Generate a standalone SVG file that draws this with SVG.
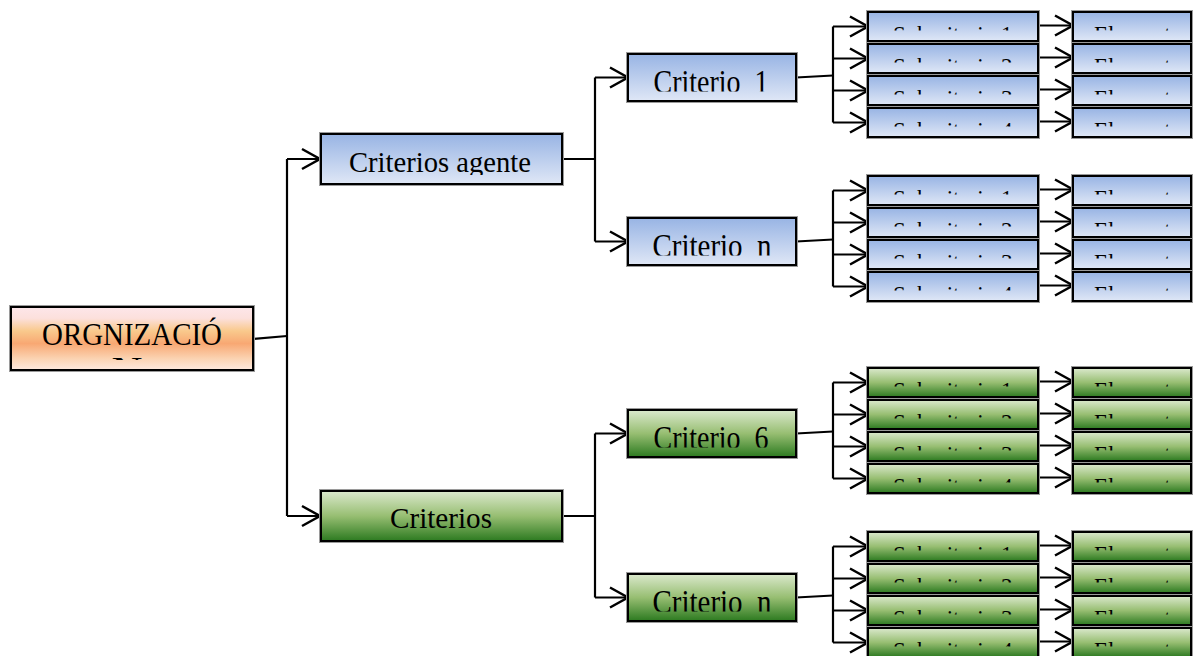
<svg xmlns="http://www.w3.org/2000/svg" width="1197" height="656" viewBox="0 0 1197 656">
  <defs>
    <linearGradient id="gBlue" x1="0" y1="0" x2="0" y2="1">
      <stop offset="0" stop-color="#98b4e4"/>
      <stop offset="1" stop-color="#dfe7f6"/>
    </linearGradient>
    <linearGradient id="gGreen" x1="0" y1="0" x2="0" y2="1">
      <stop offset="0" stop-color="#dbe9cd"/>
      <stop offset="0.5" stop-color="#97be72"/>
      <stop offset="1" stop-color="#2c7a20"/>
    </linearGradient>
    <linearGradient id="gPeach" x1="0" y1="0" x2="0" y2="1">
      <stop offset="0" stop-color="#fde6ea"/>
      <stop offset="0.18" stop-color="#fce0dc"/>
      <stop offset="0.38" stop-color="#f9c98c"/>
      <stop offset="0.58" stop-color="#f8a873"/>
      <stop offset="0.82" stop-color="#fbd3b2"/>
      <stop offset="1" stop-color="#fde9df"/>
    </linearGradient>
    <marker id="ah" markerUnits="userSpaceOnUse" markerWidth="24" markerHeight="24" viewBox="0 0 24 24" refX="21" refY="11" orient="auto" overflow="visible">
      <path d="M3 1 L21 11 L3 21" fill="none" stroke="#000" stroke-width="2.5"/>
    </marker>
    <!-- text areas of the boxes (local coordinates of each node) -->
    <clipPath id="clipSub"><rect x="2" y="0" width="166" height="18.6"/></clipPath>
    <clipPath id="clipEl"><rect x="2" y="0" width="114" height="18.6"/></clipPath>
    <clipPath id="clipCrit"><rect x="2" y="0" width="164" height="37.5"/></clipPath>
    <clipPath id="clipMain"><rect x="2" y="0" width="237" height="41"/></clipPath>
    <clipPath id="clipRoot"><rect x="2" y="0" width="238" height="53"/></clipPath>
  </defs>
  <style>
    .box { stroke: #000; stroke-width: 2; }
    .halo { fill: none; stroke: #9a9a9a; stroke-width: 1; }
    .blue { fill: url(#gBlue); }
    .green { fill: url(#gGreen); }
    .peach { fill: url(#gPeach); }
    text { font-family: "Liberation Serif", "Times New Roman", serif; fill: #000; white-space: pre; }
    .big { font-size: 31px; }
    .mid { font-size: 28.6px; }
    .crit { font-size: 33px; }
    .small { font-size: 23px; }
    .conn path { fill: none; stroke: #000; stroke-width: 2.2; }
    .conn .arr { marker-end: url(#ah); }
  </style>

  <rect width="1197" height="656" fill="#fff"/>

  <!-- connectors -->
  <g id="connectors" class="conn">
    <!-- root to first level -->
    <path d="M253 339 L287 336"/>
    <path d="M287 159 V516"/>
    <path class="arr" d="M287 159 H320"/>
    <path class="arr" d="M287 516 H320"/>
    <!-- first level to criteria -->
    <path d="M562 159 H595"/>
    <path d="M595 77.5 V241.5"/>
    <path class="arr" d="M595 77.5 H628"/>
    <path class="arr" d="M595 241.5 H628"/>
    <path d="M562 516 H595"/>
    <path d="M595 433.5 V597.5"/>
    <path class="arr" d="M595 433.5 H628"/>
    <path class="arr" d="M595 597.5 H628"/>
    <!-- Criterio 1 fan-out -->
    <path d="M796 77.5 L833 75.5"/>
    <path d="M833 26.5 V122.5"/>
    <path class="arr" d="M833 26.5 H868"/>
    <path class="arr" d="M833 58.5 H868"/>
    <path class="arr" d="M833 90.5 H868"/>
    <path class="arr" d="M833 122.5 H868"/>
    <path class="arr" d="M1038 25.5 H1073"/>
    <path class="arr" d="M1038 57.5 H1073"/>
    <path class="arr" d="M1038 89.5 H1073"/>
    <path class="arr" d="M1038 121.5 H1073"/>
    <!-- Criterio n (blue) fan-out -->
    <path d="M796 241.5 L833 239.5"/>
    <path d="M833 190.5 V286.5"/>
    <path class="arr" d="M833 190.5 H868"/>
    <path class="arr" d="M833 222.5 H868"/>
    <path class="arr" d="M833 254.5 H868"/>
    <path class="arr" d="M833 286.5 H868"/>
    <path class="arr" d="M1038 189.5 H1073"/>
    <path class="arr" d="M1038 221.5 H1073"/>
    <path class="arr" d="M1038 253.5 H1073"/>
    <path class="arr" d="M1038 285.5 H1073"/>
    <!-- Criterio 6 fan-out -->
    <path d="M796 433.5 L833 431.5"/>
    <path d="M833 382.5 V478.5"/>
    <path class="arr" d="M833 382.5 H868"/>
    <path class="arr" d="M833 414.5 H868"/>
    <path class="arr" d="M833 446.5 H868"/>
    <path class="arr" d="M833 478.5 H868"/>
    <path class="arr" d="M1038 381.5 H1073"/>
    <path class="arr" d="M1038 413.5 H1073"/>
    <path class="arr" d="M1038 445.5 H1073"/>
    <path class="arr" d="M1038 477.5 H1073"/>
    <!-- Criterio n (green) fan-out -->
    <path d="M796 597.5 L833 595.5"/>
    <path d="M833 546.5 V642.5"/>
    <path class="arr" d="M833 546.5 H868"/>
    <path class="arr" d="M833 578.5 H868"/>
    <path class="arr" d="M833 610.5 H868"/>
    <path class="arr" d="M833 642.5 H868"/>
    <path class="arr" d="M1038 545.5 H1073"/>
    <path class="arr" d="M1038 577.5 H1073"/>
    <path class="arr" d="M1038 609.5 H1073"/>
    <path class="arr" d="M1038 641.5 H1073"/>
  </g>

  <!-- root -->
  <g id="organizacion" transform="translate(11,307)">
    <rect class="halo" x="-1.5" y="-1.5" width="245" height="66"/>
    <rect class="box peach" width="242" height="63"/>
    <g clip-path="url(#clipRoot)">
      <text class="big" x="121" y="38" text-anchor="middle" textLength="180" lengthAdjust="spacingAndGlyphs">ORGNIZACIÓ</text>
      <text class="big" x="116" y="71.8" text-anchor="middle" textLength="31" lengthAdjust="spacingAndGlyphs">N</text>
    </g>
  </g>

  <!-- first level -->
  <g id="criterios-agente" transform="translate(321,134)">
    <rect class="halo" x="-1.5" y="-1.5" width="244" height="53"/>
    <rect class="box blue" width="241" height="50"/>
    <text class="mid" x="119" y="38" text-anchor="middle" textLength="182" lengthAdjust="spacingAndGlyphs" clip-path="url(#clipMain)">Criterios agente</text>
  </g>
  <g id="criterios" transform="translate(321,491)">
    <rect class="halo" x="-1.5" y="-1.5" width="244" height="53"/>
    <rect class="box green" width="241" height="50"/>
    <text class="mid" x="120" y="37.3" text-anchor="middle" textLength="102" lengthAdjust="spacingAndGlyphs" clip-path="url(#clipMain)">Criterios</text>
  </g>

  <!-- criteria -->
  <g id="criterio-1" transform="translate(628,54)">
    <rect class="halo" x="-1.5" y="-1.5" width="171" height="50"/>
    <rect class="box blue" width="168" height="47"/>
    <text class="crit" x="83" y="39" text-anchor="middle" textLength="115" lengthAdjust="spacingAndGlyphs" clip-path="url(#clipCrit)">Criterio  1</text>
  </g>
  <g id="criterio-n-a" transform="translate(628,218)">
    <rect class="halo" x="-1.5" y="-1.5" width="171" height="50"/>
    <rect class="box blue" width="168" height="47"/>
    <text class="crit" x="84" y="39" text-anchor="middle" textLength="119" lengthAdjust="spacingAndGlyphs" clip-path="url(#clipCrit)">Criterio  n</text>
  </g>
  <g id="criterio-6" transform="translate(628,410)">
    <rect class="halo" x="-1.5" y="-1.5" width="171" height="50"/>
    <rect class="box green" width="168" height="47"/>
    <text class="crit" x="83" y="39" text-anchor="middle" textLength="115" lengthAdjust="spacingAndGlyphs" clip-path="url(#clipCrit)">Criterio  6</text>
  </g>
  <g id="criterio-n-b" transform="translate(628,574)">
    <rect class="halo" x="-1.5" y="-1.5" width="171" height="50"/>
    <rect class="box green" width="168" height="47"/>
    <text class="crit" x="84" y="39" text-anchor="middle" textLength="119" lengthAdjust="spacingAndGlyphs" clip-path="url(#clipCrit)">Criterio  n</text>
  </g>

  <!-- sub-criteria and elements, Criterio 1 -->
  <g id="sub-a1" transform="translate(868,12)"><rect class="halo" x="-1.5" y="-1.5" width="173" height="32"/><rect class="box blue" width="170" height="29"/><text class="small" x="25" y="30.2" clip-path="url(#clipSub)">Subcriterio 1</text></g>
  <g id="sub-a2" transform="translate(868,44)"><rect class="halo" x="-1.5" y="-1.5" width="173" height="32"/><rect class="box blue" width="170" height="29"/><text class="small" x="25" y="30.2" clip-path="url(#clipSub)">Subcriterio 2</text></g>
  <g id="sub-a3" transform="translate(868,76)"><rect class="halo" x="-1.5" y="-1.5" width="173" height="32"/><rect class="box blue" width="170" height="29"/><text class="small" x="25" y="30.2" clip-path="url(#clipSub)">Subcriterio 3</text></g>
  <g id="sub-a4" transform="translate(868,108)"><rect class="halo" x="-1.5" y="-1.5" width="173" height="32"/><rect class="box blue" width="170" height="29"/><text class="small" x="25" y="30.2" clip-path="url(#clipSub)">Subcriterio 4</text></g>
  <g id="el-a1" transform="translate(1073,12)"><rect class="halo" x="-1.5" y="-1.5" width="121" height="32"/><rect class="box blue" width="118" height="29"/><text class="small" x="21" y="30.2" clip-path="url(#clipEl)">Elementos</text></g>
  <g id="el-a2" transform="translate(1073,44)"><rect class="halo" x="-1.5" y="-1.5" width="121" height="32"/><rect class="box blue" width="118" height="29"/><text class="small" x="21" y="30.2" clip-path="url(#clipEl)">Elementos</text></g>
  <g id="el-a3" transform="translate(1073,76)"><rect class="halo" x="-1.5" y="-1.5" width="121" height="32"/><rect class="box blue" width="118" height="29"/><text class="small" x="21" y="30.2" clip-path="url(#clipEl)">Elementos</text></g>
  <g id="el-a4" transform="translate(1073,108)"><rect class="halo" x="-1.5" y="-1.5" width="121" height="32"/><rect class="box blue" width="118" height="29"/><text class="small" x="21" y="30.2" clip-path="url(#clipEl)">Elementos</text></g>

  <!-- sub-criteria and elements, Criterio n (agent) -->
  <g id="sub-b1" transform="translate(868,176)"><rect class="halo" x="-1.5" y="-1.5" width="173" height="32"/><rect class="box blue" width="170" height="29"/><text class="small" x="25" y="30.2" clip-path="url(#clipSub)">Subcriterio 1</text></g>
  <g id="sub-b2" transform="translate(868,208)"><rect class="halo" x="-1.5" y="-1.5" width="173" height="32"/><rect class="box blue" width="170" height="29"/><text class="small" x="25" y="30.2" clip-path="url(#clipSub)">Subcriterio 2</text></g>
  <g id="sub-b3" transform="translate(868,240)"><rect class="halo" x="-1.5" y="-1.5" width="173" height="32"/><rect class="box blue" width="170" height="29"/><text class="small" x="25" y="30.2" clip-path="url(#clipSub)">Subcriterio 3</text></g>
  <g id="sub-b4" transform="translate(868,272)"><rect class="halo" x="-1.5" y="-1.5" width="173" height="32"/><rect class="box blue" width="170" height="29"/><text class="small" x="25" y="30.2" clip-path="url(#clipSub)">Subcriterio 4</text></g>
  <g id="el-b1" transform="translate(1073,176)"><rect class="halo" x="-1.5" y="-1.5" width="121" height="32"/><rect class="box blue" width="118" height="29"/><text class="small" x="21" y="30.2" clip-path="url(#clipEl)">Elementos</text></g>
  <g id="el-b2" transform="translate(1073,208)"><rect class="halo" x="-1.5" y="-1.5" width="121" height="32"/><rect class="box blue" width="118" height="29"/><text class="small" x="21" y="30.2" clip-path="url(#clipEl)">Elementos</text></g>
  <g id="el-b3" transform="translate(1073,240)"><rect class="halo" x="-1.5" y="-1.5" width="121" height="32"/><rect class="box blue" width="118" height="29"/><text class="small" x="21" y="30.2" clip-path="url(#clipEl)">Elementos</text></g>
  <g id="el-b4" transform="translate(1073,272)"><rect class="halo" x="-1.5" y="-1.5" width="121" height="32"/><rect class="box blue" width="118" height="29"/><text class="small" x="21" y="30.2" clip-path="url(#clipEl)">Elementos</text></g>

  <!-- sub-criteria and elements, Criterio 6 -->
  <g id="sub-c1" transform="translate(868,368)"><rect class="halo" x="-1.5" y="-1.5" width="173" height="32"/><rect class="box green" width="170" height="29"/><text class="small" x="25" y="30.2" clip-path="url(#clipSub)">Subcriterio 1</text></g>
  <g id="sub-c2" transform="translate(868,400)"><rect class="halo" x="-1.5" y="-1.5" width="173" height="32"/><rect class="box green" width="170" height="29"/><text class="small" x="25" y="30.2" clip-path="url(#clipSub)">Subcriterio 2</text></g>
  <g id="sub-c3" transform="translate(868,432)"><rect class="halo" x="-1.5" y="-1.5" width="173" height="32"/><rect class="box green" width="170" height="29"/><text class="small" x="25" y="30.2" clip-path="url(#clipSub)">Subcriterio 3</text></g>
  <g id="sub-c4" transform="translate(868,464)"><rect class="halo" x="-1.5" y="-1.5" width="173" height="32"/><rect class="box green" width="170" height="29"/><text class="small" x="25" y="30.2" clip-path="url(#clipSub)">Subcriterio 4</text></g>
  <g id="el-c1" transform="translate(1073,368)"><rect class="halo" x="-1.5" y="-1.5" width="121" height="32"/><rect class="box green" width="118" height="29"/><text class="small" x="21" y="30.2" clip-path="url(#clipEl)">Elementos</text></g>
  <g id="el-c2" transform="translate(1073,400)"><rect class="halo" x="-1.5" y="-1.5" width="121" height="32"/><rect class="box green" width="118" height="29"/><text class="small" x="21" y="30.2" clip-path="url(#clipEl)">Elementos</text></g>
  <g id="el-c3" transform="translate(1073,432)"><rect class="halo" x="-1.5" y="-1.5" width="121" height="32"/><rect class="box green" width="118" height="29"/><text class="small" x="21" y="30.2" clip-path="url(#clipEl)">Elementos</text></g>
  <g id="el-c4" transform="translate(1073,464)"><rect class="halo" x="-1.5" y="-1.5" width="121" height="32"/><rect class="box green" width="118" height="29"/><text class="small" x="21" y="30.2" clip-path="url(#clipEl)">Elementos</text></g>

  <!-- sub-criteria and elements, Criterio n (second group) -->
  <g id="sub-d1" transform="translate(868,532)"><rect class="halo" x="-1.5" y="-1.5" width="173" height="32"/><rect class="box green" width="170" height="29"/><text class="small" x="25" y="30.2" clip-path="url(#clipSub)">Subcriterio 1</text></g>
  <g id="sub-d2" transform="translate(868,564)"><rect class="halo" x="-1.5" y="-1.5" width="173" height="32"/><rect class="box green" width="170" height="29"/><text class="small" x="25" y="30.2" clip-path="url(#clipSub)">Subcriterio 2</text></g>
  <g id="sub-d3" transform="translate(868,596)"><rect class="halo" x="-1.5" y="-1.5" width="173" height="32"/><rect class="box green" width="170" height="29"/><text class="small" x="25" y="30.2" clip-path="url(#clipSub)">Subcriterio 3</text></g>
  <g id="sub-d4" transform="translate(868,628)"><rect class="halo" x="-1.5" y="-1.5" width="173" height="32"/><rect class="box green" width="170" height="29"/><text class="small" x="25" y="30.2" clip-path="url(#clipSub)">Subcriterio 4</text></g>
  <g id="el-d1" transform="translate(1073,532)"><rect class="halo" x="-1.5" y="-1.5" width="121" height="32"/><rect class="box green" width="118" height="29"/><text class="small" x="21" y="30.2" clip-path="url(#clipEl)">Elementos</text></g>
  <g id="el-d2" transform="translate(1073,564)"><rect class="halo" x="-1.5" y="-1.5" width="121" height="32"/><rect class="box green" width="118" height="29"/><text class="small" x="21" y="30.2" clip-path="url(#clipEl)">Elementos</text></g>
  <g id="el-d3" transform="translate(1073,596)"><rect class="halo" x="-1.5" y="-1.5" width="121" height="32"/><rect class="box green" width="118" height="29"/><text class="small" x="21" y="30.2" clip-path="url(#clipEl)">Elementos</text></g>
  <g id="el-d4" transform="translate(1073,628)"><rect class="halo" x="-1.5" y="-1.5" width="121" height="32"/><rect class="box green" width="118" height="29"/><text class="small" x="21" y="30.2" clip-path="url(#clipEl)">Elementos</text></g>
</svg>
